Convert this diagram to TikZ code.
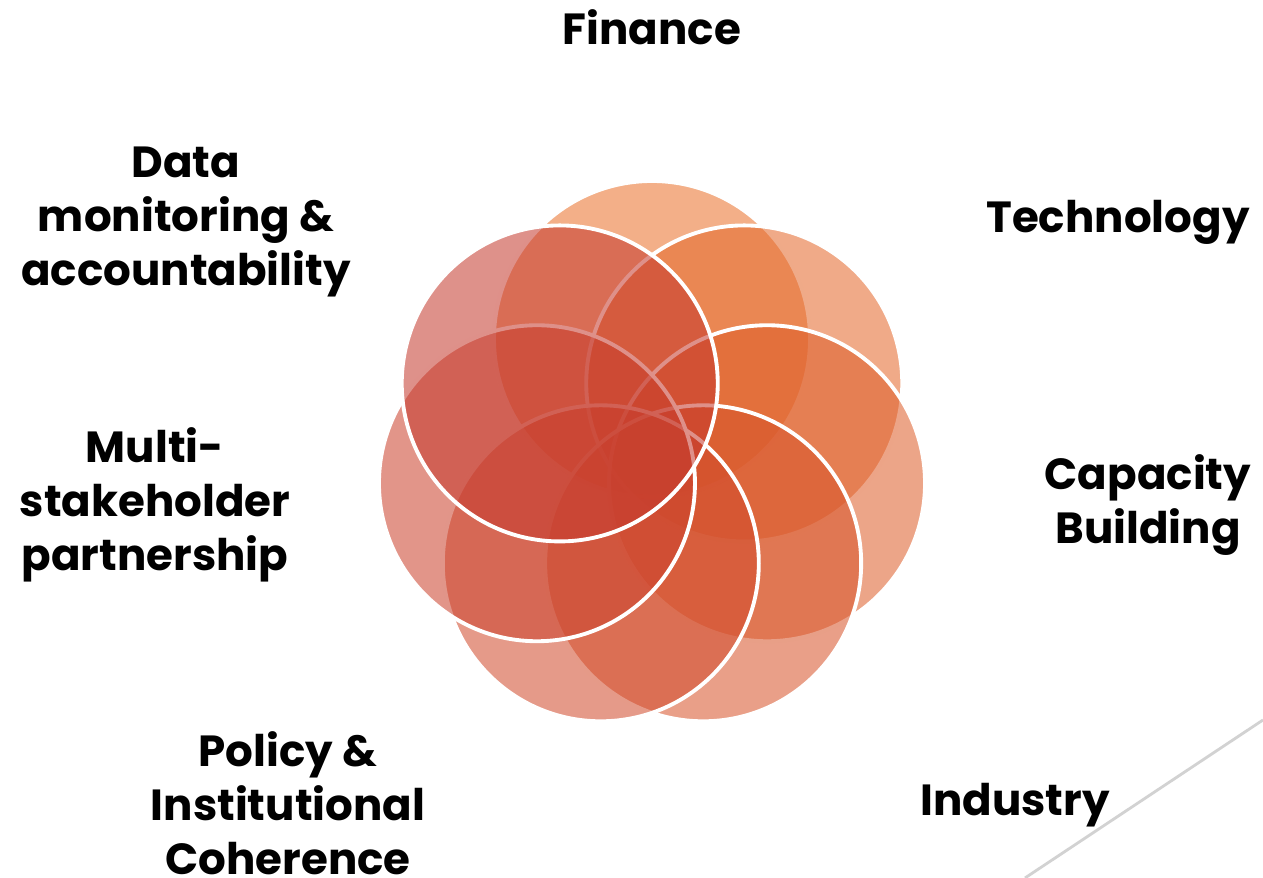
\documentclass[tikz,border=0pt]{standalone}
\usepackage{fontspec}
\setmainfont{Poppins}
\usetikzlibrary{positioning}

\definecolor{finC}{RGB}{233,113,42}
\definecolor{techC}{RGB}{228,104,43}
\definecolor{capC}{RGB}{222,94,42}
\definecolor{indC}{RGB}{215,84,42}
\definecolor{polC}{RGB}{209,75,44}
\definecolor{mulC}{RGB}{203,66,45}
\definecolor{datC}{RGB}{197,58,46}
\definecolor{rule}{RGB}{210,210,210}

\begin{document}
\begin{tikzpicture}[
    petal/.style={circle, draw=white, line width=1.1pt, fill opacity=0.56, minimum size=3.16cm, inner sep=0pt},
    lbl/.style={font=\fontsize{12.4}{15.3}\selectfont\bfseries, align=center}]
    \useasboundingbox (0,0) rectangle (12.63,8.78);

    % Hub of the flower
    \coordinate (hub) at (6.52,4.21);

    % Seven overlapping petals, clockwise from the top
    \node[petal, fill=finC] (finance) at ([shift={(90:1.18)}]hub) {};
    \node[petal, fill=techC] (technology) at ([shift={(38.57:1.18)}]hub) {};
    \node[petal, fill=capC] (capacity) at ([shift={(-12.86:1.18)}]hub) {};
    \node[petal, fill=indC] (industry) at ([shift={(-64.29:1.18)}]hub) {};
    \node[petal, fill=polC] (policy) at ([shift={(-115.71:1.18)}]hub) {};
    \node[petal, fill=mulC] (multi) at ([shift={(-167.14:1.18)}]hub) {};
    \node[petal, fill=datC] (data) at ([shift={(141.43:1.18)}]hub) {};

    % Labels around the flower
    \node[lbl] (financeLbl) at (6.52,8.51) {Finance};
    \node[lbl] (technologyLbl) at (11.18,6.56) {Technology};
    \node[lbl] (capacityLbl) at (11.48,3.73) {Capacity\\Building};
    \node[lbl] (industryLbl) at (10.15,0.73) {Industry};
    \node[lbl] (policyLbl) at (2.88,0.75) {Policy \&\\Institutional\\Coherence};
    \node[lbl] (multiLbl) at (1.55,3.73) {Multi-\\stakeholder\\partnership};
    \node[lbl] (dataLbl) at (1.86,6.56) {Data\\monitoring \&\\accountability};

    % Thin slide rule in the corner
    \coordinate (ruleTop) at (12.63,1.58);
    \coordinate (ruleEnd) at (10.25,0);
    \draw[rule, line width=0.8pt] (ruleTop) -- (ruleEnd);
\end{tikzpicture}
\end{document}
